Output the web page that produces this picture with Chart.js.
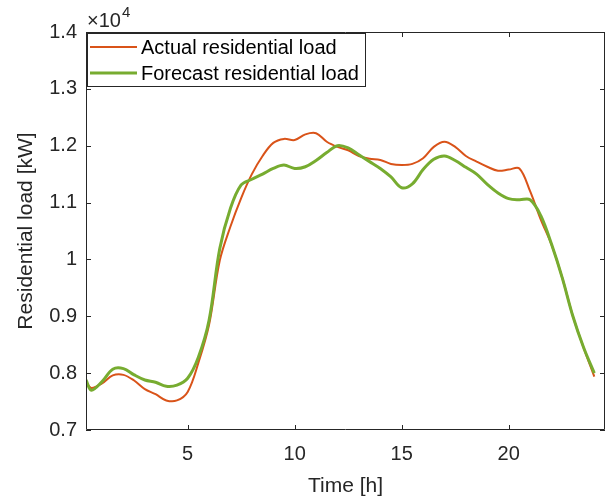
<!DOCTYPE html>
<html lang="en">
<head>
    <meta charset="UTF-8">
    <title>Residential load</title>
    <script src="https://cdn.jsdelivr.net/npm/chart.js"></script>
    <style>
        body { margin: 0; background: #fff; }
        #wrap { width: 615px; height: 501px; }
    </style>
</head>
<body>
    <div id="wrap"><canvas id="grafico"></canvas></div>

    <script>
        // hours of the day
        const hours = [0.25, 0.5, 1, 1.5, 2, 2.5, 3, 3.5, 4, 4.5, 5, 5.5, 6, 6.5, 7, 7.5, 8, 8.5,
            9, 9.5, 10, 10.5, 11, 11.5, 12, 12.5, 13, 13.5, 14, 14.5, 15, 15.5, 16, 16.5, 17, 17.5,
            18, 18.5, 19, 19.5, 20, 20.5, 21, 21.5, 22, 22.5, 23, 23.5, 24];
        // kW
        const actualLoad = [7850, 7740, 7820, 7960, 7970, 7870, 7720, 7630, 7520, 7520, 7670, 8180, 8850, 9980, 10580, 11080,
            11500, 11820, 12050, 12120, 12100, 12200, 12220, 12070, 11980, 11920, 11820, 11770, 11750, 11680,
            11660, 11680, 11780, 11980, 12070, 11980, 11820, 11720, 11630, 11560, 11580, 11600, 11200, 10700,
            10260, 9680, 9000, 8450, 7940];
        const forecastLoad = [7880, 7700, 7850, 8070, 8080, 7970, 7880, 7840, 7770, 7790, 7910, 8280, 8930, 10190, 10900, 11310,
            11410, 11500, 11600, 11660, 11600, 11630, 11740, 11880, 12000, 11960, 11840, 11720, 11600, 11450,
            11260, 11330, 11580, 11760, 11820, 11740, 11620, 11500, 11320, 11170, 11070, 11050, 11050, 10770,
            10270, 9680, 9000, 8450, 8000];
        const xTicks = [5, 10, 15, 20];
        const yTicks = [7000, 8000, 9000, 10000, 11000, 12000, 13000, 14000];
        const seriesNames = ['Actual residential load', 'Forecast residential load'];

        const axisColor = '#262626';
        const fontName = '"Liberation Sans", Arial, sans-serif';

        const toPoints = vals => vals.map((v, i) => ({ x: hours[i], y: v }));

        // box, inward ticks, x10^4 and the legend, MATLAB style
        const matlabAxes = {
            id: 'matlabAxes',
            afterDraw(chart) {
                const ctx = chart.ctx;
                const a = chart.chartArea;
                const xs = chart.scales.x, ys = chart.scales.y;
                ctx.save();
                ctx.strokeStyle = axisColor;
                ctx.lineWidth = 1;
                ctx.beginPath();
                ctx.rect(a.left + 0.5, a.top + 0.5, a.right - a.left - 1, a.bottom - a.top - 1);
                xTicks.forEach(t => {
                    const px = Math.round(xs.getPixelForValue(t)) + 0.5;
                    ctx.moveTo(px, a.bottom); ctx.lineTo(px, a.bottom - 5);
                    ctx.moveTo(px, a.top); ctx.lineTo(px, a.top + 5);
                });
                yTicks.forEach(t => {
                    const py = Math.round(ys.getPixelForValue(t)) + 0.5;
                    ctx.moveTo(a.left, py); ctx.lineTo(a.left + 5, py);
                    ctx.moveTo(a.right, py); ctx.lineTo(a.right - 5, py);
                });
                ctx.stroke();

                // exponent
                ctx.fillStyle = axisColor;
                ctx.textBaseline = 'alphabetic';
                ctx.textAlign = 'left';
                ctx.font = '20px ' + fontName;
                ctx.fillText('\u00d710', a.left + 1, 27);
                const w = ctx.measureText('\u00d710').width;
                ctx.font = '15px ' + fontName;
                ctx.fillText('4', a.left + 2 + w, 17);

                // legend
                const lx = a.left + 1, ly = a.top + 1, lw = 279, lh = 54;
                ctx.fillStyle = '#fff';
                ctx.fillRect(lx, ly, lw, lh);
                ctx.strokeStyle = axisColor;
                ctx.strokeRect(lx + 0.5, ly + 0.5, lw - 1, lh - 1);
                chart.data.datasets.forEach((ds, i) => {
                    const y = ly + 14 + i * 26;
                    ctx.strokeStyle = ds.borderColor;
                    ctx.lineWidth = ds.borderWidth;
                    ctx.beginPath();
                    ctx.moveTo(lx + 3, y); ctx.lineTo(lx + 50, y);
                    ctx.stroke();
                    ctx.fillStyle = '#000';
                    ctx.font = '20px ' + fontName;
                    ctx.textBaseline = 'middle';
                    ctx.fillText(ds.label, lx + 54, y + 1);
                });
                ctx.restore();
            }
        };

        new Chart(document.getElementById('grafico'), {
            type: 'line',
            data: {
                datasets: [{
                    label: seriesNames[0],
                    data: toPoints(actualLoad),
                    borderColor: '#D95319',
                    borderWidth: 2,
                    order: 2
                }, {
                    label: seriesNames[1],
                    data: toPoints(forecastLoad),
                    borderColor: '#77AC30',
                    borderWidth: 3,
                    order: 1
                }]
            },
            options: {
                responsive: true,
                maintainAspectRatio: false,
                animation: false,
                layout: { padding: { top: 32, right: 10, left: 0, bottom: 0 } },
                elements: {
                    point: { radius: 0 },
                    line: { tension: 0.35 }
                },
                plugins: {
                    legend: { display: false },
                    tooltip: { enabled: false }
                },
                scales: {
                    x: {
                        type: 'linear',
                        min: 0.25,
                        max: 24.5,
                        afterFit: s => { s.height = 71; },
                        afterBuildTicks: s => { s.ticks = xTicks.map(v => ({ value: v })); },
                        grid: { display: false, drawTicks: false },
                        border: { display: false },
                        ticks: {
                            padding: 12,
                            maxRotation: 0,
                            color: axisColor,
                            font: { family: fontName, size: 20 }
                        },
                        title: {
                            display: true,
                            text: 'Time [h]',
                            color: axisColor,
                            padding: { top: 0, bottom: 2 },
                            font: { family: fontName, size: 21 }
                        }
                    },
                    y: {
                        min: 7000,
                        max: 14000,
                        afterFit: s => { s.width = 86; },
                        afterBuildTicks: s => { s.ticks = yTicks.map(v => ({ value: v })); },
                        grid: { display: false, drawTicks: false },
                        border: { display: false },
                        ticks: {
                            padding: 9,
                            color: axisColor,
                            font: { family: fontName, size: 20 },
                            callback: v => String(Number((v / 10000).toFixed(1)))
                        },
                        title: {
                            display: true,
                            text: 'Residential load [kW]',
                            color: axisColor,
                            padding: { top: 14, bottom: 0 },
                            font: { family: fontName, size: 21 }
                        }
                    }
                }
            },
            plugins: [matlabAxes]
        });
    </script>
</body>
</html>
